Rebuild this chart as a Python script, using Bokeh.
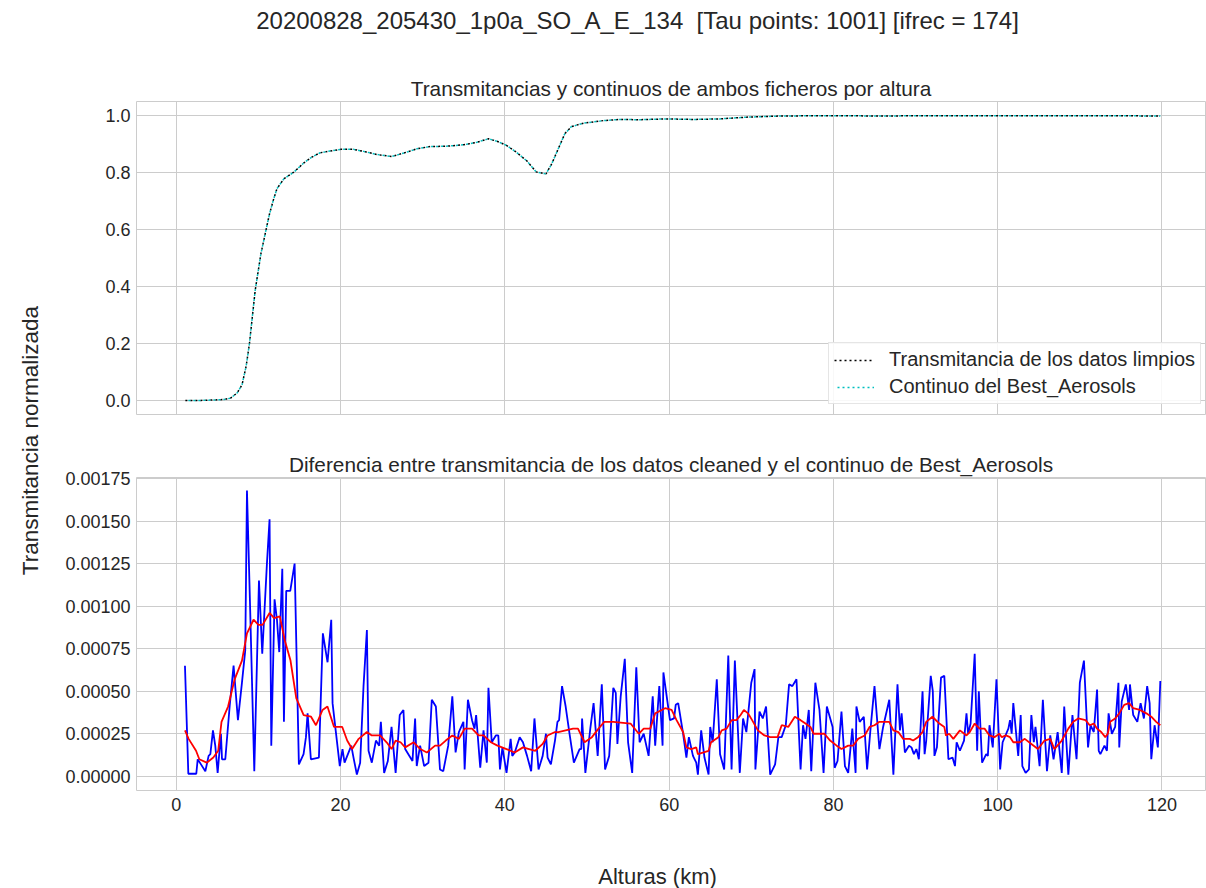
import numpy as np
from bokeh.plotting import figure
from bokeh.layouts import row, column
from bokeh.models import Range1d, Title, Legend, LegendItem, FixedTicker, NumeralTickFormatter
from bokeh.core.properties import value
from bokeh.embed import file_html
from bokeh.resources import INLINE

# ---------------- data ----------------
# Normalised transmittance vs. altitude (km)
alt_t = [1.1, 3.0, 5.0, 5.8, 6.6, 7.4, 8.0, 8.5, 8.9, 9.6, 10.3, 10.9, 11.35, 11.8,
         12.25, 13.1, 14.3, 15.5, 16.5, 17.5, 18.7, 20.0, 21.6, 22.8, 24.4, 26.2, 27.7,
         29.3, 30.9, 32.9, 35.0, 36.6, 38.0, 39.0, 40.2, 41.4, 42.7, 43.8, 45.0, 45.7,
         46.5, 47.3, 48.1, 49.6, 52.0, 54.0, 56.4, 59.7, 62.9, 66.2, 69.4, 73.5, 77.6,
         81.6, 85.6, 90.0, 95.0, 100.0, 105.0, 110.0, 115.0, 119.8]
trans_clean = [0.0, 0.0, 0.002, 0.003, 0.008, 0.026, 0.055, 0.12, 0.199, 0.386, 0.515,
               0.596, 0.655, 0.702, 0.743, 0.778, 0.801, 0.833, 0.854, 0.869, 0.875, 0.881,
               0.881, 0.874, 0.863, 0.856, 0.868, 0.883, 0.891, 0.892, 0.897, 0.906, 0.918,
               0.910, 0.895, 0.871, 0.840, 0.802, 0.795, 0.830, 0.883, 0.936, 0.961, 0.973,
               0.982, 0.986, 0.985, 0.988, 0.986, 0.988, 0.994, 0.998, 0.999, 0.999, 0.998,
               0.999, 0.999, 0.999, 0.999, 0.999, 0.999, 0.998]
trans_cont = list(trans_clean)

# Difference cleaned - continuum (units of 1e-5)
alt_d = [1.05, 1.46, 2.43, 2.6, 3.0, 3.53, 3.93, 4.14, 4.46, 4.74, 5.03, 5.43, 5.56, 5.96,
         6.49, 6.97, 7.5, 7.99, 8.39, 8.6, 9.0, 9.49, 10.06, 10.46, 11.03, 11.35, 11.56,
         11.96, 12.25, 12.53, 12.9, 13.1, 13.38, 13.87, 14.4, 14.92, 15.49, 15.78, 15.98,
         16.38, 17.36, 17.84, 18.41, 18.86, 19.02, 19.4, 19.9,
         20.23, 20.48, 21.3, 21.57, 21.98, 22.38, 22.79, 23.2, 23.4, 23.8, 24.3, 24.7, 24.9,
         25.3, 25.75, 26.2, 26.7, 27.2, 27.65, 27.86, 28.75, 29.07, 29.27, 29.68, 30.17,
         30.7, 31.1, 31.6, 32.1, 32.5, 33.1, 33.6, 34.0, 34.4, 34.95, 35.1, 35.5, 36.0,
         36.3, 36.5, 37.0, 37.4, 37.8, 38.0, 38.4, 38.9, 39.2, 39.4,
         39.7, 40.2, 40.7, 40.9, 41.2, 41.8, 42.2, 42.7, 43.2, 43.6, 44.1, 44.6, 45.0, 45.2,
         45.6, 46.1, 46.4, 46.6, 46.96, 47.4, 47.9, 48.4, 49.1, 49.3, 49.4, 49.8, 50.4, 50.8,
         51.3, 51.8, 52.2, 52.7, 53.2, 53.5, 53.7, 54.1, 54.6, 55.0, 55.5, 56.0, 56.4, 56.9,
         57.5, 58.0, 58.3, 58.8, 59.2, 59.3, 60.1,
         60.6, 60.8, 61.1, 61.7, 62.1, 62.4, 62.9, 63.3, 63.5, 63.9, 64.3, 64.8, 65.0, 65.3,
         65.8, 66.2, 66.7, 67.2, 67.6, 68.0, 68.6, 69.0, 69.4, 70.0, 70.4, 70.5, 71.0, 71.4,
         71.8, 72.3, 72.9, 73.3, 73.7, 74.2, 74.6, 75.0, 75.5, 76.0, 76.3, 76.6, 77.0, 77.3,
         77.8, 78.3, 78.8, 79.2, 79.9, 80.15,
         80.5, 80.98, 81.4, 81.8, 82.3, 82.7, 82.8, 83.2, 83.7, 84.1, 84.5, 85.0, 85.6, 86.05,
         86.8, 87.3, 87.8, 88.1, 88.3, 88.7, 89.2, 89.5, 89.8, 90.1, 90.4, 90.85, 91.1, 91.3,
         91.85, 92.1, 92.3, 92.6, 93.1, 93.5, 94.0, 94.5, 94.8, 95.0, 95.4, 95.9, 96.2, 96.4,
         96.7, 97.2, 97.5, 97.7, 98.1, 98.6, 98.8, 99.0, 99.4, 99.85,
         100.3, 100.6, 101.3, 101.5, 101.7, 101.9, 102.5, 102.8, 103.0, 103.4, 103.8, 104.1,
         104.4, 104.6, 105.1, 105.5, 106.0, 106.4, 106.8, 107.3, 107.8, 108.1, 108.6, 109.1,
         109.6, 110.0, 110.5, 111.0, 111.3, 111.7, 112.1, 112.3, 112.5, 113.0, 113.3, 113.5,
         113.9, 114.3, 114.7, 114.8, 115.1, 115.6, 116.0, 116.1, 116.5, 117.0, 117.4, 117.8,
         118.2, 118.5, 118.7, 119.1, 119.5, 119.8]
diff_e5 = [65, 1.5, 1.5, 10, 7, 3, 12, 13, 27, 18, 2, 25, 10, 10,
           41, 65, 33, 55, 74, 168, 96, 3, 115, 72, 125, 151, 18,
           104, 92, 73, 122, 32, 109, 109, 125, 7, 13, 23, 37,
           10, 11, 84, 67, 92, 43, 27, 6,
           16, 8, 18, 11, 1, 8, 53, 86, 15, 8, 21, 18, 32,
           2, 9, 29, 2, 36, 39, 16, 9, 34, 6, 18, 6,
           8, 45, 41, 4, 3, 18, 47, 14, 26, 32, 4, 45, 33,
           28, 36, 5, 27, 8, 52, 20, 24, 24, 4,
           17, 2, 22, 12, 14, 23, 20, 12, 3, 34, 4, 12, 25, 11,
           7, 21, 32, 33, 53, 41, 24, 8, 16, 16, 34, 2, 28, 43,
           12, 54, 4, 12, 52, 49, 19, 47, 69, 20, 2, 64, 20, 25,
           12, 47, 18, 53, 18, 61, 33,
           34, 42, 43, 25, 11, 23, 12, 8, 1, 27, 11, 1, 29, 20,
           57, 13, 4, 71, 4, 68, 2, 34, 26, 55, 63, 4, 38, 34,
           41, 1, 7, 23, 23, 30, 54, 53, 57, 4, 30, 22, 39, 3,
           55, 39, 2, 41, 29, 5,
           9, 38, 6, 2, 28, 2, 41, 32, 35, 4, 27, 53, 16, 29,
           45, 1, 54, 27, 37, 14, 18, 17, 13, 16, 10, 50, 13, 21,
           59, 50, 12, 17, 58, 59, 10, 11, 6, 20, 15, 21, 37, 25,
           31, 72, 15, 50, 8, 13, 12, 30, 17, 57,
           4, 20, 28, 33, 25, 43, 12, 36, 6, 2, 4, 36,
           20, 29, 6, 45, 3, 24, 10, 26, 2, 41, 1, 36,
           10, 55, 68, 17, 30, 26, 51, 15, 13, 18, 15, 37,
           25, 29, 55, 17, 44, 54, 39, 54, 36, 32, 43, 34,
           53, 43, 10, 30, 17, 56]

# Running mean of the difference (units of 1e-5)
alt_s = [1.05, 1.5, 2.4, 2.8, 3.7, 4.5, 5.1, 5.5, 6.3, 7.1, 7.99, 8.6, 9.4, 10.0, 10.5,
         11.35, 11.9, 12.6, 13.2, 13.9, 14.6, 15.5, 16.4, 17.0, 17.8, 18.4, 19.2, 20.2,
         20.8, 21.4, 22.2, 23.2, 23.8, 24.8, 25.6, 26.2, 26.7, 27.3, 27.86, 28.9, 29.7,
         30.5, 31.5, 32.1, 32.8, 33.6, 34.4, 35.1, 36.0, 36.8, 37.4, 38.3, 39.1, 40.2,
         41.2, 42.2, 43.7, 44.6, 45.2, 46.1, 46.5, 48.3, 48.9, 49.7, 50.6, 51.4, 52.1,
         53.2, 55.3, 56.3, 56.9, 57.7, 58.3, 59.1, 59.5, 60.3, 60.9, 61.7, 62.1, 62.7,
         63.3, 63.5, 64.8, 65.1, 66.0, 66.4, 67.0, 67.6, 68.2, 68.7, 69.1, 69.6, 70.1,
         70.8, 71.6, 72.3, 73.2, 73.7, 74.5, 75.3, 76.0, 76.6, 77.2, 77.6, 78.4, 78.9,
         79.6, 80.4, 80.98, 81.8, 82.4, 83.0, 83.8, 84.4, 85.0, 85.6, 86.8, 87.3, 87.9,
         88.5, 89.3, 89.7, 90.3, 90.85, 91.3, 92.05, 92.9, 93.5, 93.7, 94.1, 94.6, 95.4,
         96.2, 96.6, 97.2, 97.8, 98.4, 99.0, 99.6, 100.2, 100.5, 101.0, 101.5, 101.9,
         102.7, 103.3, 104.1, 104.9, 105.7, 106.4, 106.9, 107.8, 108.6, 109.2, 109.8,
         110.7, 111.2, 111.7, 112.1, 112.6, 113.1, 113.4, 113.7, 114.3, 114.8, 115.4,
         116.0, 116.5, 117.3, 118.1, 118.7, 119.3, 119.8]
smooth_e5 = [27, 22, 15, 10, 8, 11, 15, 32, 41, 57, 68, 84, 92, 89, 89,
             96, 93, 94, 80, 68, 46, 36, 35, 30, 39, 41, 29, 29,
             21, 16, 22, 26, 24, 24, 20, 16, 21, 20, 17, 20, 16,
             14, 18, 18, 21, 24, 22, 28, 28, 24, 24, 20, 18, 16,
             14, 17, 15, 19, 24, 26, 26, 28, 28, 20, 23, 28, 32,
             32, 31, 25, 28, 28, 37, 39, 40, 39, 33, 26, 17, 16,
             17, 13, 15, 20, 23, 27, 28, 33, 33, 36, 39, 37, 33,
             27, 24, 23, 23, 30, 29, 35, 33, 31, 29, 25, 25, 25,
             21, 18, 16, 18, 18, 22, 24, 29, 30, 32, 32, 27, 26,
             22, 22, 21, 23, 26, 32, 35, 31, 29, 24, 25, 22, 27,
             24, 26, 31, 28, 28, 24, 23, 25, 23, 24, 23, 20,
             20, 22, 19, 16, 21, 22, 16, 21, 28, 32, 34,
             33, 30, 31, 28, 26, 23, 25, 32, 34, 37, 42,
             43, 40, 39, 37, 35, 32, 30]

diff = np.array(diff_e5) * 1e-5
smooth = np.array(smooth_e5) * 1e-5

SUPTITLE = "20200828_205430_1p0a_SO_A_E_134 \u00a0[Tau points: 1001] [ifrec = 174]"

# ---------------- style ----------------
FONT = "Liberation Sans"
INK = "#262626"
GRID = "#cccccc"
X_RANGE = Range1d(-4.85, 125.3)
X_TICKS = [0, 20, 40, 60, 80, 100, 120]


def style(p, yticks, yfmt):
    p.background_fill_color = "white"
    p.border_fill_color = "white"
    p.outline_line_color = GRID
    p.outline_line_width = 1
    p.xaxis.ticker = FixedTicker(ticks=X_TICKS)
    p.xgrid.ticker = FixedTicker(ticks=X_TICKS)
    p.yaxis.ticker = FixedTicker(ticks=yticks)
    p.ygrid.ticker = FixedTicker(ticks=yticks)
    p.yaxis.formatter = NumeralTickFormatter(format=yfmt)
    p.xaxis.formatter = NumeralTickFormatter(format="0")
    for ax in p.axis:
        ax.axis_line_color = None
        ax.major_tick_line_color = None
        ax.minor_tick_line_color = None
        ax.major_tick_out = 0
        ax.major_tick_in = 0
        ax.minor_tick_out = 0
        ax.minor_tick_in = 0
        ax.major_label_text_font = FONT
        ax.major_label_text_font_size = "18px"
        ax.major_label_text_color = INK
        ax.major_label_standoff = 6
    p.grid.grid_line_color = GRID
    p.grid.grid_line_width = 1


def text_strip(width, height):
    # blank canvas in pixel coordinates, used for figure-level labels
    s = figure(width=width, height=height, x_range=Range1d(0, width), y_range=Range1d(0, height),
               output_backend="svg", toolbar_location=None,
               x_axis_location=None, y_axis_location=None, min_border=0)
    s.outline_line_color = None
    s.grid.visible = False
    s.background_fill_color = "white"
    s.border_fill_color = "white"
    return s


def sub_title(text):
    return Title(text=text, align="center", text_font=FONT, text_font_size="20.8px",
                 text_font_style="normal", text_color=INK, standoff=4)


# Figure-level title
top = text_strip(1206, 40)
top.text(x=[637], y=[20], text=[SUPTITLE], text_align="center", text_baseline="middle",
         text_font_size=value("24px"), text_color=INK, text_font=value(FONT))

# Shared y label
ylab = text_strip(60, 788)
ylab.text(x=[30], y=[388], text=["Transmitancia normalizada"], angle=np.pi / 2,
          text_align="center", text_baseline="middle", text_font_size=value("22.5px"),
          text_color=INK, text_font=value(FONT))

# Shared x label
bottom = text_strip(1206, 60)
bottom.text(x=[657], y=[12], text=["Alturas (km)"], text_align="center", text_baseline="middle",
            text_font_size=value("22px"), text_color=INK, text_font=value(FONT))

# Upper panel: transmittances
p1 = figure(width=1146, height=406, x_range=X_RANGE, y_range=Range1d(-0.0495, 1.049),
            output_backend="svg", toolbar_location=None,
            min_border_left=76, min_border_right=1, min_border_top=61, min_border_bottom=32)
style(p1, [0.0, 0.2, 0.4, 0.6, 0.8, 1.0], "0.0")
p1.xaxis.visible = False
r_clean = p1.line(alt_t, trans_clean, line_color="black", line_width=1.5, line_dash="2 3")
r_cont = p1.line(alt_t, trans_cont, line_color="#00bfbf", line_width=1.5, line_dash="2 3",
                 line_dash_offset=2)
p1.add_layout(sub_title("Transmitancias y continuos de ambos ficheros por altura"), "above")

legend = Legend(items=[LegendItem(label="Transmitancia de los datos limpios", renderers=[r_clean]),
                       LegendItem(label="Continuo del Best_Aerosols", renderers=[r_cont])],
                location=(692, 10), label_text_font=FONT, label_text_font_size="20px",
                label_text_color=INK, glyph_width=40, glyph_height=20, label_standoff=15,
                padding=5, spacing=4, margin=0, border_line_color=GRID,
                background_fill_alpha=0.85)
p1.add_layout(legend)

# Lower panel: difference
p2 = figure(width=1146, height=382, x_range=X_RANGE, y_range=Range1d(-0.0000835, 0.001756),
            output_backend="svg", toolbar_location=None,
            min_border_left=76, min_border_right=1, min_border_top=31, min_border_bottom=38)
style(p2, [0.0, 0.00025, 0.0005, 0.00075, 0.001, 0.00125, 0.0015, 0.00175], "0.00000")
p2.xaxis.major_label_standoff = 7
p2.line(alt_d, diff, line_color="#0000ff", line_width=1.8)
p2.line(alt_s, smooth, line_color="#ff0000", line_width=1.8)
p2.add_layout(sub_title("Diferencia entre transmitancia de los datos cleaned y el continuo de Best_Aerosols"),
              "above")

layout = column(top, row(ylab, column(p1, p2, spacing=0), spacing=0), bottom, spacing=0)

open("out.html", "w").write(file_html(layout, INLINE))
